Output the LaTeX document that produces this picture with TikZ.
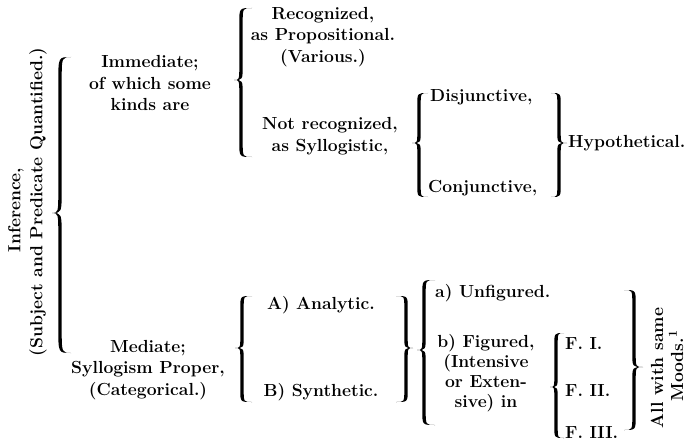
\documentclass[tikz,border=0pt]{standalone}
\usepackage{fontspec}
\def\bT{1.7}
\newcommand{\Brace}[7]{%
\fill[black] (#3,#4) .. controls ({#1-\bT},#4) and ({#1-\bT},#4) .. ({#1-\bT},{#4+#7}) -- ({#1-\bT},{#5-#7}) .. controls ({#1-\bT},#5) and ({#1-\bT},#5) .. (#2,#5) .. controls ({#1-\bT},#5) and ({#1-\bT},#5) .. ({#1-\bT},{#5+#7}) -- ({#1-\bT},{#6-#7}) .. controls ({#1-\bT},#6) and ({#1-\bT},#6) .. (#3,#6) .. controls ({#1+\bT},#6) and ({#1+\bT},#6) .. ({#1+\bT},{#6-#7}) -- ({#1+\bT},{#5+#7}) .. controls ({#1+\bT},#5) and ({#1+\bT},#5) .. (#2,#5) .. controls ({#1+\bT},#5) and ({#1+\bT},#5) .. ({#1+\bT},{#5-#7}) -- ({#1+\bT},{#4+#7}) .. controls ({#1+\bT},#4) and ({#1+\bT},#4) .. (#3,#4) -- cycle;}
\begin{document}
\begin{tikzpicture}[x=1pt,y=-1pt,
  lbl/.style={inner sep=0pt,align=center,font=\fontsize{17.5}{21.5}\selectfont\bfseries\addfontfeatures{FakeBold=2.5}}]
\useasboundingbox (0,0) rectangle (687,441);
\fill[white] (0,0) rectangle (687,441);
% rotated heading
\node[lbl,rotate=90] (inf) at (16,210) {Inference,};
\node[lbl,rotate=90] (subj) at (38,202) {(Subject and Predicate Quantified.)};
\Brace{60}{52}{71}{57}{213}{353}{25}
% Immediate branch
\node[lbl] (imm) at (150,83) {Immediate;\\of which some\\kinds are};
\Brace{241}{234}{252}{8}{80}{157}{15}
\node[lbl] (rec) at (323,37) {Recognized,\\as Propositional.\\(Various.)};
\node[lbl] (notrec) at (330,136) {Not recognized,\\as Syllogistic,};
\Brace{419}{412}{428}{93}{143}{197}{12}
\node[lbl,anchor=west] (disj) at (430,97) {Disjunctive,};
\node[lbl,anchor=west] (conj) at (428,188) {Conjunctive,};
\Brace{559}{567}{551}{93}{143}{197}{12}
\node[lbl,anchor=west] (hyp) at (568,143) {Hypothetical.};
% Mediate branch
\node[lbl] (med) at (148,370) {Mediate;\\Syllogism Proper,\\(Categorical.)};
\Brace{242}{235}{252}{296}{348}{402}{12}
\node[lbl] (ana) at (321,305) {A)\ Analytic.};
\node[lbl] (syn) at (321,392) {B)\ Synthetic.};
\Brace{406}{413}{396}{296}{348}{402}{12}
\Brace{424}{417}{435}{280}{350}{425}{14}
\node[lbl,anchor=west] (unf) at (435,293) {a) Unfigured.};
\node[lbl,font=\fontsize{17.5}{20}\selectfont\bfseries\addfontfeatures{FakeBold=2.5}] (fig) at (486,373) {b) Figured,\\(Intensive\\or Exten-\\sive) in};
\Brace{556}{550}{564}{333}{387}{438}{12}
\node[lbl,anchor=west] (f1) at (565,343) {F.\ I.};
\node[lbl,anchor=west] (f2) at (565,390) {F.\ II.};
\node[lbl,anchor=west] (f3) at (565,432) {F.\ III.};
\Brace{634}{643}{624}{290}{367}{430}{14}
\node[lbl,rotate=90] (all) at (657,368) {All with same};
\node[lbl,rotate=90] (moods) at (676,366) {Moods.\textsuperscript{1}};
\end{tikzpicture}
\end{document}
